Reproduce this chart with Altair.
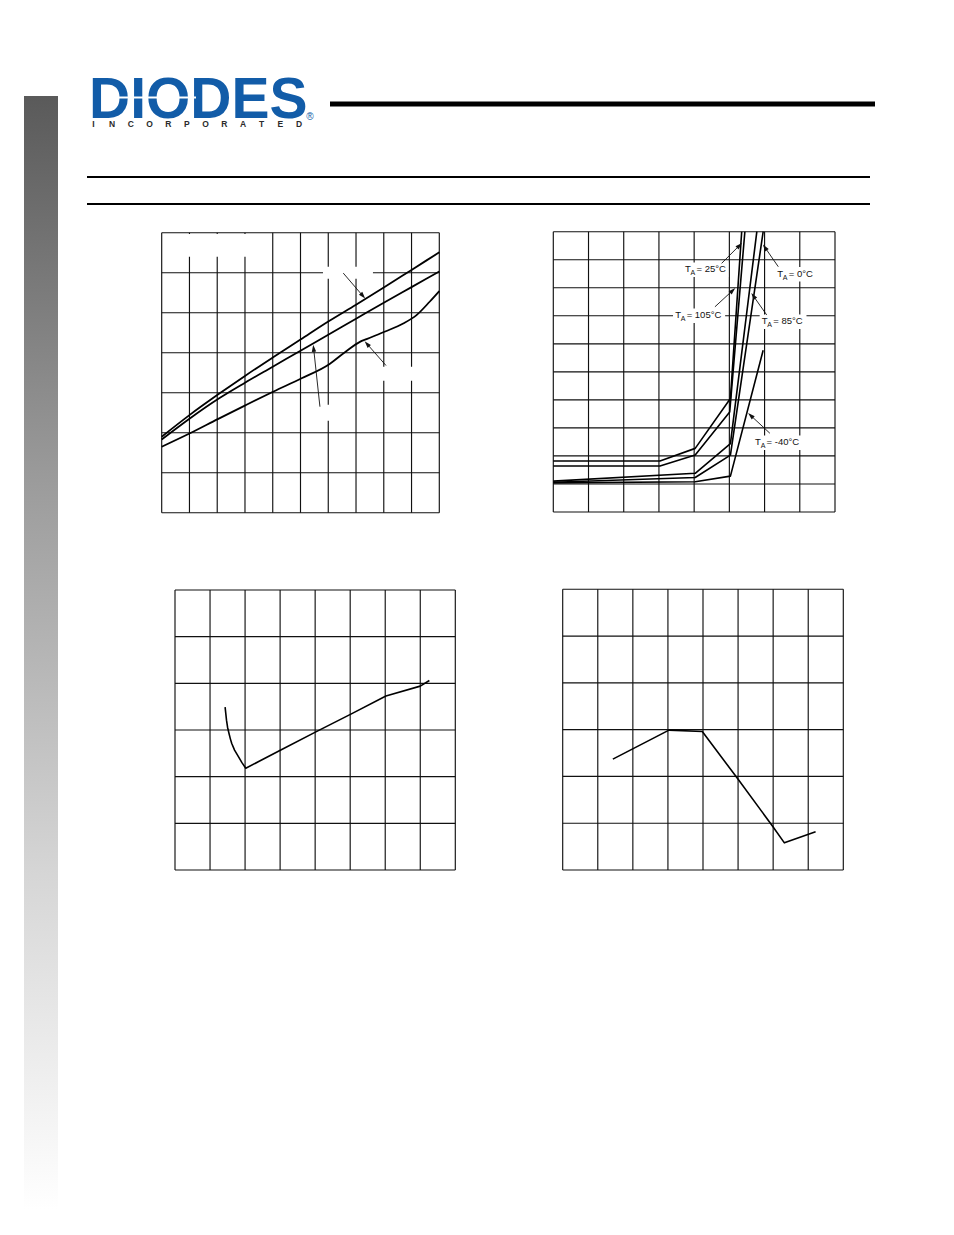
import math
import altair as alt
import pandas as pd

# ---------------- data ----------------
# Panel 1 (top-left): three curves on a 10 x 7 grid
p1_a_x = [0, 1, 2, 3, 4, 5, 6, 7, 8, 9, 10]
p1_a_y = [1.90, 2.44, 2.94, 3.42, 3.88, 4.33, 4.78, 5.20, 5.63, 6.07, 6.51]
p1_b_x = [0, 1, 2, 3, 4, 5, 6, 7, 8, 9, 10]
p1_b_y = [1.83, 2.35, 2.83, 3.25, 3.65, 4.05, 4.45, 4.85, 5.25, 5.64, 6.03]
p1_c_x = [0, 1, 2.02, 3.03, 4.03, 5.04, 6.05, 6.6, 7.14, 7.38, 8.05, 8.7, 9.18, 9.66, 10]
p1_c_y = [1.65, 1.98, 2.34, 2.69, 3.03, 3.36, 3.72, 4.01, 4.27, 4.34, 4.53, 4.73, 4.94, 5.28, 5.54]
p1_arrow_x0 = [6.54, 5.70, 8.08]
p1_arrow_y0 = [5.99, 2.65, 3.68]
p1_arrow_x1 = [7.32, 5.46, 7.32]
p1_arrow_y1 = [5.36, 4.19, 4.28]
p1_blank_x0 = [0.75, 5.81, 7.95, 5.63]
p1_blank_x1 = [3.25, 7.61, 9.30, 6.60]
p1_blank_y0 = [6.40, 5.85, 3.30, 2.30]
p1_blank_y1 = [6.97, 6.15, 3.65, 2.70]

# Panel 2 (top-right): five temperature curves on an 8 x 10 grid
p2_names = ["105°C", "25°C", "85°C", "0°C", "-40°C"]
p2_x = [
    [0, 3.03, 4.03, 5.03, 5.35],
    [0, 3.03, 4.03, 5.01, 5.44],
    [0, 4.03, 5.03, 5.78],
    [0, 4.03, 5.03, 5.96],
    [0, 4.03, 5.03, 5.96],
]
p2_y = [
    [1.82, 1.82, 2.27, 4.05, 10],
    [1.64, 1.64, 2.03, 3.57, 10],
    [1.10, 1.38, 2.44, 10],
    [1.06, 1.23, 2.03, 10],
    [1.04, 1.08, 1.28, 5.77],
]
p2_label_text = ["= 25°C", "= 0°C", "= 105°C", "= 85°C", "= -40°C"]
p2_label_x = [3.74, 6.36, 3.46, 5.92, 5.73]
p2_label_y = [8.56, 8.40, 6.92, 6.71, 2.39]
p2_bg_x0 = [3.68, 6.30, 3.40, 5.86, 5.67]
p2_bg_x1 = [4.97, 7.48, 4.88, 7.19, 7.09]
p2_bg_y0 = [8.38, 8.22, 6.74, 6.53, 2.21]
p2_bg_y1 = [8.90, 8.74, 7.26, 7.05, 2.73]
p2_arrow_x0 = [4.78, 6.39, 4.59, 6.06, 6.15]
p2_arrow_y0 = [8.87, 8.75, 7.32, 7.03, 2.81]
p2_arrow_x1 = [5.35, 5.96, 5.16, 5.63, 5.54]
p2_arrow_y1 = [9.59, 9.53, 7.98, 7.80, 3.52]

# Panel 3 (bottom-left): one curve on an 8 x 6 grid
p3_x = [1.43, 1.45, 1.47, 1.50, 1.54, 1.58, 1.62, 1.70, 1.81, 1.91, 2.02, 3.02, 4.02, 5.02, 6.02, 7.0, 7.26]
p3_y = [3.49, 3.35, 3.21, 3.06, 2.93, 2.81, 2.71, 2.57, 2.43, 2.30, 2.18, 2.57, 2.96, 3.34, 3.73, 3.94, 4.06]

# Panel 4 (bottom-right): one curve on an 8 x 6 grid
p4_x = [1.43, 3.03, 3.98, 4.98, 5.99, 6.32, 7.21]
p4_y = [2.37, 2.99, 2.96, 1.96, 0.93, 0.58, 0.82]

logo_word = "DIODES"
logo_sub = list("INCORPORATED")

# ---------------- layout / style ----------------
W, H = 930, 1210
OFF = 8
INK = "#111111"
BLUE = "#125ca8"
FONT = "Liberation Sans"
ARROW = "M0,-1L0.55,0.75L-0.55,0.75Z"

P1 = dict(cols=10, rows=7, x=(161.7, 439.3), y=(512.7, 232.7))
P2 = dict(cols=8, rows=10, x=(553.3, 835.0), y=(512.0, 231.7))
P3 = dict(cols=8, rows=6, x=(175.0, 455.3), y=(870.0, 590.0))
P4 = dict(cols=8, rows=6, x=(562.7, 843.3), y=(870.0, 589.3))


def pg(v):
    return v - OFF


def scales(P):
    xs = alt.Scale(domain=[0, P["cols"]], range=[pg(P["x"][0]), pg(P["x"][1])], nice=False, zero=False)
    ys = alt.Scale(domain=[0, P["rows"]], range=[pg(P["y"][0]), pg(P["y"][1])], nice=False, zero=False)
    return xs, ys


def grid(P):
    xs, ys = scales(P)
    v = pd.DataFrame({"v": list(range(P["cols"] + 1))})
    v["lo"] = 0
    v["hi"] = P["rows"]
    h = pd.DataFrame({"v": list(range(P["rows"] + 1))})
    h["lo"] = 0
    h["hi"] = P["cols"]
    vr = alt.Chart(v).mark_rule(color=INK, strokeWidth=1.15).encode(
        x=alt.X("v:Q", scale=xs, axis=None),
        y=alt.Y("lo:Q", scale=ys, axis=None),
        y2="hi:Q",
    )
    hr = alt.Chart(h).mark_rule(color=INK, strokeWidth=1.15).encode(
        y=alt.Y("v:Q", scale=ys, axis=None),
        x=alt.X("lo:Q", scale=xs, axis=None),
        x2="hi:Q",
    )
    return [vr, hr]


def curves(P, names, xss, yss, width=1.7, interp="linear"):
    xs, ys = scales(P)
    rows = []
    for n, xl, yl in zip(names, xss, yss):
        for i, (a, b) in enumerate(zip(xl, yl)):
            rows.append({"s": n, "i": i, "x": a, "y": b})
    df = pd.DataFrame(rows)
    return alt.Chart(df).mark_line(
        color="black", strokeWidth=width, strokeJoin="round", interpolate=interp
    ).encode(
        x=alt.X("x:Q", scale=xs, axis=None),
        y=alt.Y("y:Q", scale=ys, axis=None),
        detail="s:N",
        order="i:Q",
    )


def blanks(P, x0, x1, y0, y1):
    xs, ys = scales(P)
    df = pd.DataFrame({"x0": x0, "x1": x1, "y0": y0, "y1": y1})
    return alt.Chart(df).mark_rect(color="white").encode(
        x=alt.X("x0:Q", scale=xs, axis=None), x2="x1:Q",
        y=alt.Y("y0:Q", scale=ys, axis=None), y2="y1:Q",
    )


def arrows(P, x0, y0, x1, y1):
    xs, ys = scales(P)
    kx = (P["x"][1] - P["x"][0]) / P["cols"]
    ky = (P["y"][0] - P["y"][1]) / P["rows"]
    lines, heads = [], []
    for a, b, c, d in zip(x0, y0, x1, y1):
        dxs = (c - a) * kx
        dys = -(d - b) * ky
        L = math.hypot(dxs, dys)
        ex, ey = dxs / L, dys / L
        ang = math.degrees(math.atan2(dxs, -dys)) % 360
        lines.append({"x": a, "y": b, "x2": c - 2 * ex / kx, "y2": d + 2 * ey / ky})
        heads.append({"x": c - 3.6 * ex / kx, "y": d + 3.6 * ey / ky, "ang": ang})
    ln = alt.Chart(pd.DataFrame(lines)).mark_rule(color=INK, strokeWidth=0.9).encode(
        x=alt.X("x:Q", scale=xs, axis=None), y=alt.Y("y:Q", scale=ys, axis=None),
        x2="x2:Q", y2="y2:Q",
    )
    hd = alt.Chart(pd.DataFrame(heads)).mark_point(
        shape=ARROW, filled=True, size=64, color=INK, opacity=1, strokeWidth=0
    ).encode(
        x=alt.X("x:Q", scale=xs, axis=None), y=alt.Y("y:Q", scale=ys, axis=None),
        angle=alt.Angle("ang:Q", scale=None),
    )
    return [ln, hd]


def labels(P, texts, lx, ly):
    xs, ys = scales(P)
    df = pd.DataFrame({"x": lx, "y": ly, "t": texts})
    base = alt.Chart(df).encode(
        x=alt.X("x:Q", scale=xs, axis=None), y=alt.Y("y:Q", scale=ys, axis=None)
    )
    t = base.mark_text(text="T", font=FONT, fontSize=9.5, align="left", baseline="alphabetic", color=INK)
    a = base.mark_text(text="A", font=FONT, fontSize=7, align="left", baseline="alphabetic",
                       color=INK, dx=5.6, dy=3)
    r = base.mark_text(font=FONT, fontSize=9.5, align="left", baseline="alphabetic",
                       color=INK, dx=11.5).encode(text="t:N")
    return [t, a, r]


one = pd.DataFrame({"k": [0]})

# ---------------- page decorations ----------------
sidebar = alt.Chart(one).mark_rect(
    color=alt.LinearGradient(
        gradient="linear",
        stops=[
            alt.GradientStop(color="#5a5a5a", offset=0),
            alt.GradientStop(color="#9c9c9c", offset=0.35),
            alt.GradientStop(color="#d6d6d6", offset=0.7),
            alt.GradientStop(color="#ffffff", offset=1),
        ],
        x1=0, x2=0, y1=0, y2=1,
    )
).encode(x=alt.value(pg(24)), x2=alt.value(pg(58)), y=alt.value(pg(96)), y2=alt.value(pg(1210)))

thick_rule = alt.Chart(one).mark_rule(color="black", strokeWidth=5).encode(
    x=alt.value(pg(330)), x2=alt.value(pg(875)), y=alt.value(pg(104))
)
rule_a = alt.Chart(one).mark_rule(color="black", strokeWidth=1.8).encode(
    x=alt.value(pg(87)), x2=alt.value(pg(870)), y=alt.value(pg(177))
)
rule_b = alt.Chart(one).mark_rule(color="black", strokeWidth=1.8).encode(
    x=alt.value(pg(87)), x2=alt.value(pg(870)), y=alt.value(pg(204))
)

logo = alt.Chart(pd.DataFrame({"t": [logo_word]})).mark_text(
    font=FONT, fontWeight="bold", fontSize=57, color=BLUE, align="left", baseline="alphabetic",
    lineHeight=40,
).encode(x=alt.value(pg(89)), y=alt.value(pg(118)), text="t:N")

stripe = alt.Chart(one).mark_rule(color="white", strokeWidth=2.2).encode(
    x=alt.value(pg(102)), x2=alt.value(pg(196)), y=alt.value(pg(97.5))
)

sub_df = pd.DataFrame({"k": list(range(len(logo_sub))), "ch": logo_sub})
sub = alt.Chart(sub_df).mark_text(
    font=FONT, fontWeight="bold", fontSize=8.5, color="#2b2b2b", align="center", baseline="alphabetic"
).encode(
    x=alt.X("k:Q", scale=alt.Scale(domain=[0, len(logo_sub) - 1], range=[pg(93.5), pg(299)],
                                   nice=False, zero=False), axis=None),
    y=alt.value(pg(127)),
    text="ch:N",
)
reg = alt.Chart(pd.DataFrame({"t": ["®"]})).mark_text(
    font=FONT, fontSize=10, color=BLUE, align="center", baseline="middle"
).encode(x=alt.value(pg(310)), y=alt.value(pg(117)), text="t:N")

# ---------------- panels ----------------
panel1 = alt.layer(
    *grid(P1),
    blanks(P1, p1_blank_x0, p1_blank_x1, p1_blank_y0, p1_blank_y1),
    curves(P1, ["a", "b", "c"], [p1_a_x, p1_b_x, p1_c_x], [p1_a_y, p1_b_y, p1_c_y], 1.8, "monotone"),
    *arrows(P1, p1_arrow_x0, p1_arrow_y0, p1_arrow_x1, p1_arrow_y1),
)

panel2 = alt.layer(
    *grid(P2),
    curves(P2, p2_names, p2_x, p2_y, 1.6),
    blanks(P2, p2_bg_x0, p2_bg_x1, p2_bg_y0, p2_bg_y1),
    *labels(P2, p2_label_text, p2_label_x, p2_label_y),
    *arrows(P2, p2_arrow_x0, p2_arrow_y0, p2_arrow_x1, p2_arrow_y1),
)

panel3 = alt.layer(*grid(P3), curves(P3, ["c"], [p3_x], [p3_y], 1.6))
panel4 = alt.layer(*grid(P4), curves(P4, ["c"], [p4_x], [p4_y], 1.6))

chart = alt.layer(
    sidebar, thick_rule, rule_a, rule_b, logo, stripe, sub, reg,
    panel1, panel2, panel3, panel4,
).resolve_scale(
    x="independent", y="independent"
).properties(
    width=W, height=H, padding=0, autosize=alt.AutoSizeParams(type="none")
).configure_view(strokeWidth=0)

chart.save("out.html", embed_options={"renderer": "svg", "actions": False})
